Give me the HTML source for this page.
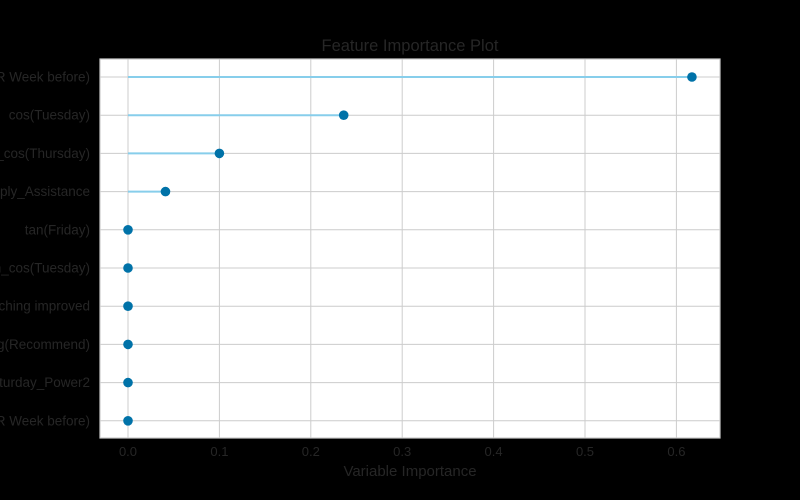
<!DOCTYPE html>
<html><head><meta charset="utf-8"><style>
body{margin:0;background:#000;}
svg{display:block;font-family:"Liberation Sans",sans-serif;}
</style></head><body>
<svg id="chart" width="800" height="500">
<rect width="800" height="500" fill="#000"/>
<text x="410" y="51" text-anchor="middle" font-size="16.5" fill="#262626">Feature Importance Plot</text>
<rect x="100" y="59" width="620" height="379" fill="#fff" stroke="#ccc" stroke-width="1.2"/>
<g id="grid"></g><g id="marks"></g><g id="labels"></g>
<text x="410" y="476" text-anchor="middle" font-size="15" fill="#262626">Variable Importance</text>
</svg>
<script>
const features=["Lag(R Week before)","cos(Tuesday)","sin_cos(Thursday)","Apply_Assistance","tan(Friday)","sin_cos(Tuesday)","Teaching improved","log(Recommend)","Saturday_Power2","Lag2(R Week before)"];
const importances=[0.617,0.236,0.1,0.041,0,0,0,0,0,0];
const xTicks=[0,0.1,0.2,0.3,0.4,0.5,0.6];
const xTickLabels=["0.0","0.1","0.2","0.3","0.4","0.5","0.6"];
const NS="http://www.w3.org/2000/svg";
const xs=v=>128+v*914;
const ys=i=>77+i*38.2;
const grid=document.getElementById('grid'),marks=document.getElementById('marks'),labels=document.getElementById('labels');
function mk(t,a,p){const e=document.createElementNS(NS,t);for(const k in a)e.setAttribute(k,a[k]);p.appendChild(e);return e;}
xTicks.forEach((t,i)=>{
  const l=mk('line',{x1:xs(t),x2:xs(t),y1:59,y2:438,stroke:'#ccc','stroke-width':1},grid);
  
  
  const tx=mk('text',{x:xs(t),y:456,'text-anchor':'middle','font-size':13,fill:'#262626'},labels);
  tx.textContent=xTickLabels[i];
  
  
});
features.forEach((f,i)=>{
  const y=ys(i);
  const g=mk('line',{x1:100,x2:720,y1:y,y2:y,stroke:'#ccc','stroke-width':1},grid);
  
  
  const s=mk('line',{x1:xs(0),x2:xs(importances[i]),y1:y,y2:y,stroke:'#87ceeb','stroke-width':2},marks);
  
  
  const c=mk('circle',{cx:xs(importances[i]),cy:y,r:4.8,fill:'#0072a8'},marks);
  
  
  const t=mk('text',{x:90,y:y+4.5,'text-anchor':'end','font-size':13.5,fill:'#262626'},labels);
  t.textContent=f;
  
  
});
</script>
</body></html>
